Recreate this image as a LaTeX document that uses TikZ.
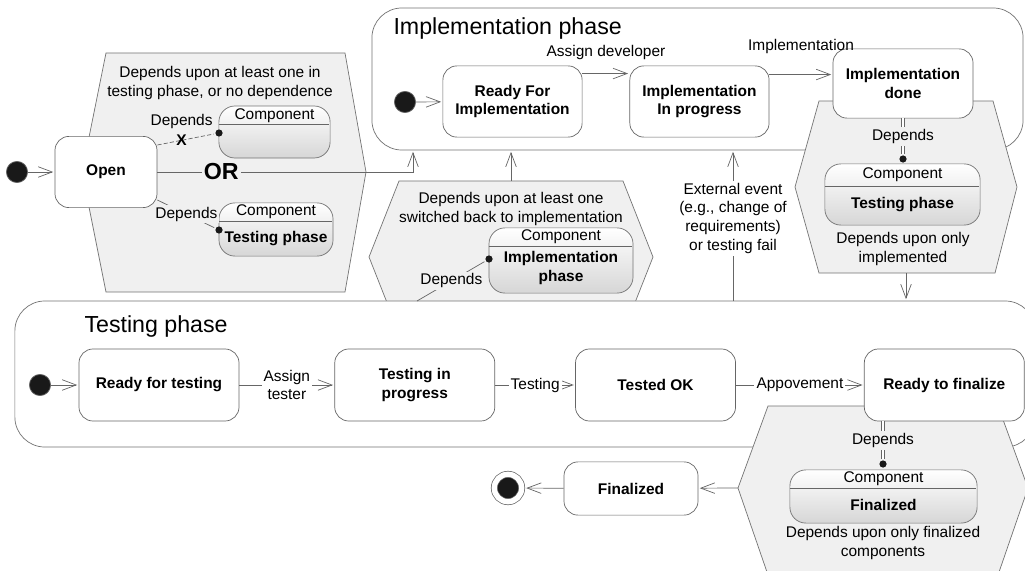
\documentclass[tikz,border=0pt]{standalone}
\usepackage{fontspec}
\setmainfont{Liberation Sans}
\usepackage{tikz}
\usetikzlibrary{arrows.meta,positioning}

\begin{document}
\begin{tikzpicture}[->,>={Straight Barb[length=10pt,width=7.5pt]},shorten >=1pt,x=0.025cm,y=-0.025cm,line width=0.5pt]
  \fontsize{11}{13.3}\selectfont
  \tikzstyle{stbox}=[draw=black!60,fill=white,rounded corners=0.35cm,font=\bfseries,align=center,inner sep=0pt]
  \tikzstyle{phasebox}=[draw=black!55,fill=white,rounded corners=0.75cm,inner sep=0pt]
  \tikzstyle{hexfill}=[-,draw=black!55,fill=black!6]
  \tikzstyle{compbox}=[draw=black!55,top color=white,bottom color=black!16,rounded corners=0.4cm,inner sep=0pt]
  \tikzstyle{initdot}=[circle,fill=black!90,draw=black!60,minimum size=0.53cm,inner sep=0pt]
  \tikzstyle{finaldot}=[circle,fill=black!90,draw=black!60,double=white,double distance=3.8pt,minimum size=0.685cm,inner sep=0pt,outer sep=2.2pt]
  \tikzstyle{depdot}=[circle,fill=black!90,minimum size=0.18cm,inner sep=0pt]
  \tikzstyle{dep}=[-,black!60]
  \tikzstyle{dbl}=[-,black!60,double,double distance=1.6pt]
  \tikzstyle{trans}=[black!60]
  \tikzstyle{onlabel}=[fill=white,inner sep=1.5pt,text=black]
  \tikzstyle{hexlabel}=[fill=black!6,inner sep=1.5pt,text=black]
  \tikzstyle{phasetitle}=[font=\fontsize{16.5}{20}\selectfont,anchor=west]

  \useasboundingbox (0,0) rectangle (1025,571);

  % Hexagons and phases
  \draw[hexfill] (106,53) -- (345,53) -- (366,172) -- (345,292) -- (106,292) -- (82,172) -- cycle;
  \node[phasebox,minimum width=16.275cm,minimum height=3.55cm] (impl) at (697.5,79) {};
  \draw[hexfill] (819,101) -- (993,101) -- (1017,187) -- (995,273) -- (819,273) -- (795,187) -- cycle;
  \draw[hexfill] (399,181) -- (623,181) -- (653,257) -- (623,333) -- (399,333) -- (369,257) -- cycle;
  \node[phasebox,minimum width=25.5cm,minimum height=3.65cm] (test) at (525,374) {};
  \draw[hexfill] (768,406) -- (998,406) -- (1028,488) -- (998,575) -- (768,575) -- (738,488) -- cycle;
  \node[phasetitle] (implT) at (388,29) {Implementation phase};
  \node[phasetitle] (testT) at (79,326) {Testing phase};

  % Notes
  \node[align=center] (noteL) at (220,83) {Depends upon at least one in\\testing phase, or no dependence};
  \node[align=center] (noteM) at (511,209) {Depends upon at least one\\switched back to implementation};
  \node[align=center] (noteR) at (903,249) {Depends upon only\\implemented};
  \node[align=center] (noteB) at (883,543) {Depends upon only finalized\\components};

  % Components
  \node[compbox,minimum width=2.78cm,minimum height=1.3cm] (cA) at (274.5,132) {};
  \node[compbox,minimum width=2.85cm,minimum height=1.33cm] (cB) at (276,229.5) {};
  \node[compbox,minimum width=3.6cm,minimum height=1.63cm] (cC) at (561,260.5) {};
  \node[compbox,minimum width=3.88cm,minimum height=1.53cm] (cD) at (902.5,194.5) {};
  \node[compbox,minimum width=4.68cm,minimum height=1.33cm] (cE) at (883.5,496.5) {};
  \draw[dep] ([yshift=-0.475cm]cA.north west) -- ([yshift=-0.475cm]cA.north east);
  \draw[dep] ([yshift=-0.475cm]cB.north west) -- ([yshift=-0.475cm]cB.north east);
  \draw[dep] ([yshift=-0.475cm]cC.north west) -- ([yshift=-0.475cm]cC.north east);
  \draw[dep] ([yshift=-0.575cm]cD.north west) -- ([yshift=-0.575cm]cD.north east);
  \draw[dep] ([yshift=-0.475cm]cE.north west) -- ([yshift=-0.475cm]cE.north east);
  \node (cAh) at ([yshift=-0.24cm]cA.north) {Component};
  \node (cBh) at ([yshift=-0.24cm]cB.north) {Component};
  \node (cCh) at ([yshift=-0.24cm]cC.north) {Component};
  \node (cDh) at ([yshift=-0.29cm]cD.north) {Component};
  \node (cEh) at ([yshift=-0.24cm]cE.north) {Component};
  \node[font=\bfseries] (cBb) at (276,239) {Testing phase};
  \node[font=\bfseries,align=center] (cCb) at (561,268) {Implementation\\phase};
  \node[font=\bfseries] (cDb) at (902.5,205) {Testing phase};
  \node[font=\bfseries] (cEb) at (883.5,505) {Finalized};

  % Nodes
  \node[initdot] (i0) at (17,172) {};
  \node[stbox,minimum width=2.55cm,minimum height=1.78cm] (open) at (106,172) {Open};
  \node[initdot] (i1) at (405,102) {};
  \node[stbox,minimum width=3.48cm,minimum height=1.78cm] (rfi) at (512.5,101.5) {Ready For\\Implementation};
  \node[stbox,minimum width=3.48cm,minimum height=1.78cm,right=1.175cm of rfi] (iip) {Implementation\\In progress};
  \node[stbox,minimum width=3.5cm,minimum height=1.73cm] (idone) at (903,83.5) {Implementation\\done};
  \node[initdot] (i2) at (40,385) {};
  \node[stbox,minimum width=4cm,minimum height=1.8cm] (rft) at (159,385) {Ready for testing};
  \node[stbox,minimum width=4cm,minimum height=1.8cm,right=2.375cm of rft] (tip) {Testing in\\progress};
  \node[stbox,minimum width=4cm,minimum height=1.8cm,right=2cm of tip] (tok) {Tested OK};
  \node[stbox,minimum width=4cm,minimum height=1.8cm,right=3.2cm of tok] (rtf) {Ready to finalize};
  \node[stbox,minimum width=3.35cm,minimum height=1.33cm] (fin) at (631,488.5) {Finalized};
  \node[finaldot] (final) at (508,488) {};
  \node[depdot] (dA) at (219,133) {};
  \node[depdot] (dB) at (219,230) {};
  \node[depdot] (dC) at (489,259) {};
  \node[depdot] (dD) at (903,159) {};
  \node[depdot] (dE) at (883,464) {};

  % Arrows / transitions
  \coordinate (orc) at (413,172);
  \coordinate (a1) at ([yshift=-0.2cm]rfi.north east);
  \coordinate (a2) at ([yshift=-0.225cm]iip.north east);
  \coordinate (hRb) at (906,273);
  \coordinate (hMt) at (511,181);
  \coordinate (ext) at (733,301);
  \coordinate (tC) at (417,301);
  \coordinate (hBl) at (738,488);
  \draw[trans] (i0) -- (open);
  \draw[trans] (open) -- node[pos=0.25,hexlabel,font=\fontsize{16.5}{20}\selectfont\bfseries] {OR} (orc) -- (orc |- impl.south);
  \draw[dep,dash pattern=on 3pt off 1.5pt] ([yshift=0.675cm]open.east) -- node[pos=0.42,font=\bfseries,inner sep=0pt,text=black] {X} node[pos=0.42,above=4.6pt,text=black] {Depends} (dA);   % blocked dependence
  \draw[dep] ([yshift=-0.7cm]open.east) -- node[hexlabel] {Depends} (dB);
  \draw[trans] (i1) -- (rfi);
  \draw[trans] (a1) -- node[above=6pt,text=black] {Assign developer} (a1 -| iip.west);
  \draw[trans] (a2) -- node[above=11pt,text=black] {Implementation} (a2 -| idone.west);
  \draw[dbl] (idone) -- node[hexlabel] {Depends} (dD);
  \draw[trans] (hRb) -- (hRb |- test.north);         % implemented -> testing
  \draw[trans] (hMt) -- (hMt |- impl.south);         % back to implementation
  \draw[trans] (ext) -- node[pos=0.55,onlabel,align=center] {External event\\(e.g., change of\\requirements)\\or testing fail} (ext |- impl.south);
  \draw[dep] (tC) -- node[hexlabel] {Depends} (dC);
  \draw[trans] (i2) -- (rft);
  \draw[trans] (rft) -- node[onlabel,align=center] {Assign\\tester} (tip);
  \draw[trans] (tip) -- node[onlabel] {Testing} (tok);
  \draw[trans] (tok) -- node[onlabel] {Appovement} (rtf);
  \draw[dbl] (rtf.south -| dE) -- node[hexlabel] {Depends} (dE);
  \draw[trans] (hBl) -- (fin);                       % all finalized
  \draw[trans] (fin) -- (final);
\end{tikzpicture}
\end{document}
